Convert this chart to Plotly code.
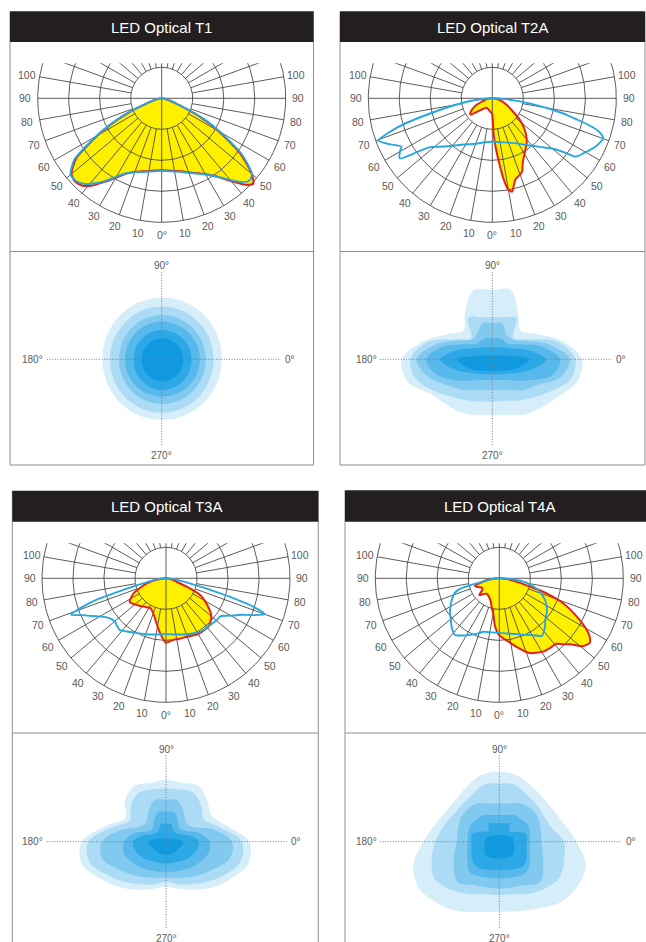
import numpy as np
import plotly.graph_objects as go

W, H = 646, 942
S = 1.24  # px per % on the candela diagrams

TITLES = ["LED Optical T1", "LED Optical T2A", "LED Optical T3A", "LED Optical T4A"]

# ---------------- candela curves: gamma = angle from nadir (deg, left half negative), I = relative %
T1_GAMMA = [-90, -85, -80, -75, -70, -67, -64, -60, -55, -50, -46, -42, -38, -34, -30, -25, -20, -15, -10, -5, 0,
            5, 10, 15, 20, 25, 30, 35, 40, 44, 47, 50, 55, 60, 64, 67, 70, 75, 80, 85, 90]
T1_RED = [0, 1.5, 3, 7, 15, 27, 40, 59, 84, 95, 97, 95, 89, 81, 74, 67, 63, 61, 59.5, 58.5, 58,
          58.5, 59.5, 61, 63.5, 66.5, 70.5, 77, 87, 97, 101, 95, 77, 53, 35, 20, 12, 6, 3, 1.5, 0]
T1_BLUE = [0, 1.5, 3.5, 7.5, 16, 29, 42, 61, 86, 96, 96, 93, 87, 80, 73, 66.5, 63.5, 61.5, 60, 59, 58.5,
           59, 60, 61.5, 64, 67, 71, 77, 86, 94, 97, 95, 79, 55, 37, 22, 13, 6.5, 3, 1.5, 0]

T2A_RED_GAMMA = [-90, -85, -80, -75, -72, -67, -62, -57, -53, -50, -46, -40, -33, -25, -15, -8, -3, 0, 2, 4,
                 6, 8, 10, 12, 14, 16, 19, 22, 25, 28, 32, 37, 42, 47, 52, 58, 65, 73, 82, 90]
T2A_RED = [0, 3, 5, 7, 9, 14, 18, 21, 22, 18, 14, 11, 9, 9, 10, 11, 12, 13, 28, 40,
           52, 66, 75, 77, 72, 68, 66, 64, 58, 54, 50, 46, 41, 35, 28, 19, 13, 8, 4, 0]
T2A_BLUE_GAMMA = [-90, -87, -83, -80, -76, -73, -69.6, -66, -62, -60, -57, -55, -52, -50, -45, -40, -32, -20, -10, 0,
                  10, 20, 28, 35, 40, 46, 50, 53, 55, 59, 65, 70, 72, 74, 76, 78, 82, 86, 90]
T2A_BLUE = [0, 6, 18, 30, 54, 80, 98, 91, 83, 86, 89, 78, 64, 61, 55, 50, 44, 39, 36, 35,
            36, 38, 41, 46, 50, 57, 63, 72, 82, 86, 92, 95, 92, 84, 70, 58, 32, 12, 0]

T3A_RED_GAMMA = [-90, -84, -80, -76, -72, -68, -65, -60, -57, -53, -48, -43, -38, -33, -28, -22, -16, -12, -8, -5,
                 -2, 0, 3, 7, 12, 19, 25, 31, 37, 41, 46, 51, 56, 60, 64, 68, 72, 78, 84, 90]
T3A_RED = [0, 5, 10, 15, 20, 25, 29, 33, 35, 34, 32, 30.5, 29, 28, 27, 29, 33, 37, 42, 46,
           50, 52, 51, 50, 50, 50, 51, 52, 52, 52, 50, 47, 41, 36, 30.6, 18, 9, 5, 2, 0]
T3A_BLUE_GAMMA = [-90, -85, -80, -76, -75, -73, -71, -69, -66, -63, -60, -55, -50, -46, -42, -38, -31, -20, -10, 0,
                  10, 20, 30, 36, 45, 50, 55, 58, 61, 64, 67, 70, 72, 73.5, 75, 76.5, 80, 85, 90]
T3A_BLUE = [0, 5, 12, 27, 35, 57, 72, 82, 73, 67, 61.5, 56, 54, 55, 56, 54, 51, 48, 46, 45,
            46, 48, 50.5, 51.5, 52, 53, 53.5, 57, 62, 67, 76, 85, 74, 57, 40, 28, 13, 5, 0]

T4A_RED_GAMMA = [-90, -85, -82, -77, -72.5, -68, -62, -58, -55, -50, -45, -39, -30, -20, -15, -10, -5, -1, 3, 7,
                 14, 22, 31, 36, 41, 44, 47, 51, 54.6, 57, 59.4, 63.6, 68.7, 72.4, 74.8, 79, 84, 90]
T4A_RED = [0, 6, 10, 15, 20.6, 19, 16, 16, 17, 21, 18, 16, 17, 20, 24, 28.6, 39, 45, 48, 50.6,
           57, 65, 69, 69.5, 70, 74, 78, 87, 89.6, 87, 82, 70, 55, 40, 25.6, 14, 6, 0]
T4A_BLUE_GAMMA = [-90, -85, -80, -77, -75, -72, -68, -65.6, -60, -54.6, -50, -44.6, -38, -33, -27.4, -20, -16.7, -8, 0, 8,
                  17, 22, 28.4, 33, 36.3, 40, 43.4, 48, 53.5, 60, 64.6, 70, 73.3, 78, 81, 86, 90]
T4A_BLUE = [0, 6, 10, 22, 33, 37.5, 40.5, 42, 45.5, 48.8, 51, 54.8, 58, 55, 51.4, 47, 45, 44, 44, 45,
            47, 49, 52, 55, 57.7, 56, 53.6, 50, 47.5, 44, 40.8, 36, 32.8, 26, 22, 11, 0]

TICK_ANGLES = [0, 10, 20, 30, 40, 50, 60, 70, 80, 90, 100]
GRID_RINGS = [25, 50, 75, 100]

# ---------------- isolux footprints: radius of each level (1 = 1 px) at each azimuth (0 = right, 90 = up)
ISO_AZIMUTH = [0, 15, 30, 45, 60, 75, 90, 105, 120, 135, 150, 165,
               180, 195, 210, 225, 240, 255, 270, 285, 300, 315, 330, 345]

T1_ISO_L1 = [60, 60.4, 60.9, 61.3, 61.6, 61.8, 61.7, 61.4, 61, 60.5, 60, 59.6, 59.3, 59.4, 59.7, 60.1, 60.4, 60.6, 60.7, 60.7, 60.6, 60.4, 60.2, 60.1]
T1_ISO_L2 = [51.7, 51.9, 52.2, 52.4, 52.6, 52.7, 52.7, 52.6, 52.4, 52.1, 51.9, 51.8, 51.7, 51.9, 52.3, 52.7, 53.0, 53.2, 53.3, 53.2, 53.0, 52.6, 52.2, 51.9]
T1_ISO_L3 = [44, 44.1, 44.2, 44.3, 44.3, 44.3, 44.3, 44.1, 43.8, 43.4, 43.0, 42.8, 42.7, 42.9, 43.3, 43.8, 44.2, 44.5, 44.7, 44.7, 44.6, 44.4, 44.2, 44.1]
T1_ISO_L4 = [38.3, 38.2, 38.0, 37.9, 37.8, 37.7, 37.7, 37.6, 37.4, 37.1, 36.9, 36.8, 36.7, 36.8, 36.9, 37.1, 37.2, 37.3, 37.3, 37.4, 37.6, 37.8, 38.0, 38.2]
T1_ISO_L5 = [30, 29.9, 29.7, 29.6, 29.4, 29.3, 29.3, 29.2, 29.0, 28.7, 28.5, 28.4, 28.3, 28.5, 28.9, 29.4, 29.9, 30.4, 30.7, 30.7, 30.6, 30.4, 30.3, 30.1]
T1_ISO_L6 = [21.7, 21.6, 21.4, 21.2, 21.1, 21.0, 21.0, 20.9, 20.7, 20.4, 20.2, 20.1, 20.0, 20.2, 20.6, 21.1, 21.6, 22.0, 22.3, 22.3, 22.2, 22.0, 21.9, 21.8]

T2A_ISO_L1 = [89.5, 71.7, 50.8, 40.6, 52, 71.7, 69.3, 71.7, 54.6, 40.9, 50.8, 70.9, 90.7, 87.4, 70.1, 64.2, 61.6, 57.7, 55.7, 57.7, 63.9, 68.6, 75.4, 87.7]
T2A_ISO_L2 = [83, 68, 40, 30, 48, 43.5, 42, 43.5, 48, 30, 40, 67, 82, 78.5, 65, 53.9, 47.6, 43.8, 42.5, 43, 47.9, 54.9, 65.2, 80.4]
T2A_ISO_L3 = [77.5, 58, 37, 28, 28.6, 37.3, 36, 37.3, 30, 28, 38, 58, 75.7, 66.6, 52, 42.9, 35.4, 31.8, 30.7, 31.8, 35.4, 43.6, 51.5, 70]
T2A_ISO_L4 = [68, 50, 30, 22, 22, 22, 21, 22, 22, 22, 30, 50, 66, 58, 42, 30, 23.5, 21.5, 21, 21.5, 23.5, 30, 42, 62]
T2A_ISO_L5 = [54, 36, 22, 16.6, 13.8, 12.4, 12, 12.4, 13.8, 16.6, 22, 36, 52, 39, 26.5, 20.4, 17.2, 15.5, 15, 15.5, 17.2, 20.4, 27, 40]
T2A_ISO_L6 = [37, 14, 7, 5.5, 4.6, 4.1, 4, 4.1, 4.6, 5.5, 7, 14, 35, 28, 21, 16, 13.6, 12.4, 12, 12.4, 13.6, 16, 21, 29]

T3A_ISO_L1 = [83, 62.2, 52.5, 58.1, 64.6, 61, 61.7, 61, 64, 58, 47, 62, 84.3, 87, 74.7, 64.5, 55.5, 48.7, 45, 48.7, 55.5, 64.7, 74.4, 85.3]
T3A_ISO_L2 = [76, 56, 44, 50, 56, 54, 53.3, 54, 56, 50, 42, 56, 77.7, 79, 67, 57, 49, 44, 40, 44, 49, 57, 67, 77]
T3A_ISO_L3 = [66, 48, 30, 28, 35, 43, 42, 43, 35, 28, 30, 46, 64, 66, 55, 47, 41, 37.5, 36, 37.5, 41, 47, 55, 66]
T3A_ISO_L4 = [44, 34, 22, 19, 24, 30.5, 30, 30.5, 24, 19, 21, 33, 42, 44, 40, 36, 33, 31, 30, 31, 33, 36, 40, 44]
T3A_ISO_L5 = [33, 24, 15, 13, 14, 18.5, 18, 18.5, 14, 13, 15, 24, 33, 32, 29, 26, 23, 22, 21.7, 22, 23, 26, 29, 32]
T3A_ISO_L6 = [17, 10, 6, 4.5, 3.8, 3.4, 3.3, 3.4, 3.8, 4.5, 6, 10, 17.7, 16, 14, 13.5, 13.4, 13.3, 13.3, 13.3, 13.4, 13.5, 14, 16]

T4A_ISO_L1 = [77, 67, 62.7, 61.9, 64.2, 68.6, 70, 69, 64, 60.5, 61.2, 66.5, 76, 89, 93, 87.2, 80.4, 72.5, 70, 72, 77.2, 86, 90, 89.6]
T4A_ISO_L2 = [64.5, 54, 51.5, 52.5, 54.4, 59, 58.3, 59, 54.3, 52.5, 53.4, 58, 64, 70, 74.8, 67.9, 60.3, 54.3, 53.3, 54.3, 60, 65.6, 70, 67.3]
T4A_ISO_L3 = [42.3, 43, 45.3, 45.8, 44.2, 39.6, 38.3, 39.6, 44.2, 45.5, 45, 43, 42.7, 46.6, 52.7, 58.2, 50.4, 47.4, 46.7, 47.4, 50.4, 57.6, 50.8, 45]
T4A_ISO_L4 = [30.7, 31.8, 33.2, 31.3, 30.8, 27.6, 26.7, 27.6, 30.8, 31.3, 33, 32.5, 31.5, 33.5, 37, 42.4, 39.9, 37.3, 36.7, 37.3, 39.9, 40.2, 35.7, 31.8]
T4A_ISO_L5 = [27.3, 28.3, 20, 14.5, 21.2, 19, 18.3, 19, 21.5, 15, 20, 28.5, 27.7, 28.6, 32, 33.5, 31.8, 29, 28.3, 29, 31.8, 34, 31.5, 28.3]
T4A_ISO_L6 = [14, 14, 11, 8.5, 7.5, 6.9, 6.7, 6.9, 7.5, 8.5, 11, 14, 14.3, 15.5, 17, 19, 18.5, 17.5, 16.7, 17.5, 18.5, 19, 17, 15.5]

ISO_LABELS = ["90°", "180°", "0°", "270°"]

CURVES = [
    (T1_GAMMA, T1_RED, T1_GAMMA, T1_BLUE),
    (T2A_RED_GAMMA, T2A_RED, T2A_BLUE_GAMMA, T2A_BLUE),
    (T3A_RED_GAMMA, T3A_RED, T3A_BLUE_GAMMA, T3A_BLUE),
    (T4A_RED_GAMMA, T4A_RED, T4A_BLUE_GAMMA, T4A_BLUE),
]
ISOS = [
    [T1_ISO_L1, T1_ISO_L2, T1_ISO_L3, T1_ISO_L4, T1_ISO_L5, T1_ISO_L6],
    [T2A_ISO_L1, T2A_ISO_L2, T2A_ISO_L3, T2A_ISO_L4, T2A_ISO_L5, T2A_ISO_L6],
    [T3A_ISO_L1, T3A_ISO_L2, T3A_ISO_L3, T3A_ISO_L4, T3A_ISO_L5, T3A_ISO_L6],
    [T4A_ISO_L1, T4A_ISO_L2, T4A_ISO_L3, T4A_ISO_L4, T4A_ISO_L5, T4A_ISO_L6],
]

# ---------------- styling / geometry (pixels)
RED, BLUE, YELLOW = "#e4221d", "#27a7e0", "#fff000"
GRID_COLOR = "#4a4a4a"
LEVEL_COLORS = ["#d6edfa", "#acdbf5", "#82c9f0", "#57b8eb", "#2da8e6", "#0f9ae0"]
BAR_COLOR = "#231f20"
BORDER = "#8f8f8f"
LABEL = "#5a5a5a"
FONT = "Liberation Sans, Arial, Helvetica, sans-serif"

GEOM = [
    dict(bx=(10, 313.5), ty=(11.5, 42), pc=(161.7, 98.3), clip=63.3, div=251.5, bot=465,
         ic=(161.7, 359.3), ix=(47, 280), iy=(271.7, 445)),
    dict(bx=(340, 645), ty=(11.5, 42), pc=(492.3, 98.3), clip=63.3, div=251.5, bot=465,
         ic=(492.3, 359.3), ix=(380, 611.7), iy=(271.7, 445)),
    dict(bx=(12.3, 318.3), ty=(491, 521.7), pc=(166, 578.3), clip=543.3, div=733, bot=960,
         ic=(166, 841.7), ix=(46.7, 286.7), iy=(755, 928)),
    dict(bx=(345, 670), ty=(490.5, 521.7), pc=(499.3, 578.3), clip=543.3, div=733, bot=960,
         ic=(499.3, 841.7), ix=(380, 621.7), iy=(755, 928)),
]


def fx(px):
    return px / W


def fy(py):
    return 1 - py / H


def polar_xy(gamma, inten):
    g = np.radians(np.asarray(gamma, float))
    r = np.asarray(inten, float)
    return r * np.sin(g), -r * np.cos(g)


def rings_xy():
    xs, ys = [], []
    t = np.radians(np.arange(0, 361, 2))
    for ring in GRID_RINGS:
        xs += list(ring * np.sin(t)) + [None]
        ys += list(-ring * np.cos(t)) + [None]
    return xs, ys


def spokes_xy():
    xs, ys = [], []
    for a in range(0, 360, 10):
        r0 = 0 if a % 90 == 0 else GRID_RINGS[0]
        g = np.radians(a)
        xs += [r0 * np.sin(g), GRID_RINGS[-1] * np.sin(g), None]
        ys += [-r0 * np.cos(g), -GRID_RINGS[-1] * np.cos(g), None]
    return xs, ys


fig = go.Figure()
layout = {}
shapes = []
annotations = []

RX, RY = rings_xy()
SX, SY = spokes_xy()

for i, g in enumerate(GEOM):
    kt, ki = 2 * i + 1, 2 * i + 2
    xt = "x" if kt == 1 else f"x{kt}"
    yt = "y" if kt == 1 else f"y{kt}"
    xi, yi = f"x{ki}", f"y{ki}"

    # ---- candela diagram axes
    cx, cy = g["pc"]
    x0p, x1p = g["bx"][0] + 1, min(g["bx"][1] - 1, W)
    y0p, y1p = g["clip"], g["div"] - 0.5
    axis_common = dict(visible=False, showgrid=False, zeroline=False, fixedrange=True)
    layout["xaxis" if kt == 1 else f"xaxis{kt}"] = dict(
        domain=[fx(x0p), fx(x1p)], range=[(x0p - cx) / S, (x1p - cx) / S], anchor=yt, **axis_common)
    layout["yaxis" if kt == 1 else f"yaxis{kt}"] = dict(
        domain=[fy(y1p), fy(y0p)], range=[(cy - y1p) / S, (cy - y0p) / S], anchor=xt, **axis_common)

    rg, ri, bg, bi = CURVES[i]
    rx, ry = polar_xy(rg, ri)
    bxs, bys = polar_xy(bg, bi)
    fig.add_trace(go.Scatter(x=rx, y=ry, mode="lines", fill="toself", fillcolor=YELLOW,
                             line=dict(width=0, color=YELLOW, shape="spline", smoothing=0.6),
                             xaxis=xt, yaxis=yt, hoverinfo="skip", showlegend=False))
    fig.add_trace(go.Scatter(x=RX, y=RY, mode="lines", line=dict(width=0.9, color=GRID_COLOR),
                             xaxis=xt, yaxis=yt, hoverinfo="skip", showlegend=False))
    fig.add_trace(go.Scatter(x=SX, y=SY, mode="lines", line=dict(width=0.9, color=GRID_COLOR),
                             xaxis=xt, yaxis=yt, hoverinfo="skip", showlegend=False))
    fig.add_trace(go.Scatter(x=rx, y=ry, mode="lines",
                             line=dict(width=2, color=RED, shape="spline", smoothing=0.6),
                             xaxis=xt, yaxis=yt, hoverinfo="skip", showlegend=False))
    fig.add_trace(go.Scatter(x=bxs, y=bys, mode="lines",
                             line=dict(width=1.9, color=BLUE, shape="spline", smoothing=0.6),
                             xaxis=xt, yaxis=yt, hoverinfo="skip", showlegend=False))

    for side in (-1, 1):
        for a in TICK_ANGLES:
            if a == 0 and side == -1:
                continue
            ga = np.radians(a)
            annotations.append(dict(
                x=side * 110 * np.sin(ga), y=-110 * np.cos(ga), xref=xt, yref=yt,
                text="0°" if a == 0 else str(a), showarrow=False,
                font=dict(family=FONT, size=10.5, color=LABEL), xanchor="center", yanchor="middle"))

    # ---- isolux footprint axes
    icx, icy = g["ic"]
    ax0, ax1 = g["ix"]
    ay0, ay1 = g["iy"]
    layout[f"xaxis{ki}"] = dict(domain=[fx(ax0), fx(ax1)], range=[ax0 - icx, ax1 - icx], anchor=yi, **axis_common)
    layout[f"yaxis{ki}"] = dict(domain=[fy(ay1), fy(ay0)], range=[icy - ay1, icy - ay0], anchor=xi, **axis_common)

    az = np.radians(ISO_AZIMUTH + [ISO_AZIMUTH[0]])
    for lev, col in zip(ISOS[i], LEVEL_COLORS):
        rr = np.asarray(lev + [lev[0]], float)
        fig.add_trace(go.Scatter(x=rr * np.cos(az), y=rr * np.sin(az), mode="lines", fill="toself",
                                 fillcolor=col, line=dict(width=0, color=col, shape="spline", smoothing=1.0),
                                 xaxis=xi, yaxis=yi, hoverinfo="skip", showlegend=False))

    dot = dict(color="#7c7c7c", width=1, dash="1px,1.6px")
    shapes.append(dict(type="line", layer="above", xref=f"{xi} domain", x0=0, x1=1, yref=yi, y0=0, y1=0, line=dot))
    shapes.append(dict(type="line", layer="above", xref=xi, x0=0, x1=0, yref=f"{yi} domain", y0=0, y1=1, line=dot))

    lf = dict(family=FONT, size=10, color=LABEL)
    annotations += [
        dict(x=fx(icx), y=fy(ay0 - 6), xref="paper", yref="paper", text=ISO_LABELS[0], showarrow=False,
             font=lf, xanchor="center", yanchor="middle"),
        dict(x=fx(ax0 - 1.5), y=fy(icy), xref="paper", yref="paper", text=ISO_LABELS[1], showarrow=False,
             font=lf, xanchor="right", yanchor="middle"),
        dict(x=fx(ax1 + 2.5), y=fy(icy), xref="paper", yref="paper", text=ISO_LABELS[2], showarrow=False,
             font=lf, xanchor="left", yanchor="middle"),
        dict(x=fx(icx), y=fy(ay1 + 10.5), xref="paper", yref="paper", text=ISO_LABELS[3], showarrow=False,
             font=lf, xanchor="center", yanchor="middle"),
    ]

    # ---- panel frame, divider and title bar
    bx0, bx1 = g["bx"]
    shapes.append(dict(type="rect", layer="above", xref="paper", yref="paper",
                       x0=fx(bx0), x1=fx(bx1), y0=fy(g["bot"]), y1=fy(g["ty"][0]),
                       line=dict(color=BORDER, width=1), fillcolor="rgba(0,0,0,0)"))
    shapes.append(dict(type="line", layer="above", xref="paper", yref="paper",
                       x0=fx(bx0), x1=fx(bx1), y0=fy(g["div"]), y1=fy(g["div"]),
                       line=dict(color=BORDER, width=1)))
    shapes.append(dict(type="rect", layer="above", xref="paper", yref="paper",
                       x0=fx(bx0), x1=fx(bx1), y0=fy(g["ty"][1]), y1=fy(g["ty"][0]),
                       line=dict(width=0), fillcolor=BAR_COLOR))
    annotations.append(dict(x=fx(cx), y=fy((g["ty"][0] + g["ty"][1]) / 2 + 0.5), xref="paper", yref="paper",
                            text=TITLES[i], showarrow=False, xanchor="center", yanchor="middle",
                            font=dict(family=FONT, size=15, color="#ffffff")))

fig.update_layout(
    width=W, height=H, margin=dict(l=0, r=0, t=0, b=0),
    paper_bgcolor="#ffffff", plot_bgcolor="rgba(0,0,0,0)",
    showlegend=False, shapes=shapes, annotations=annotations, **layout)

fig.write_html("out.html", config={"displayModeBar": False},
               post_script="document.body.style.margin='0';document.body.style.overflow='hidden';")
